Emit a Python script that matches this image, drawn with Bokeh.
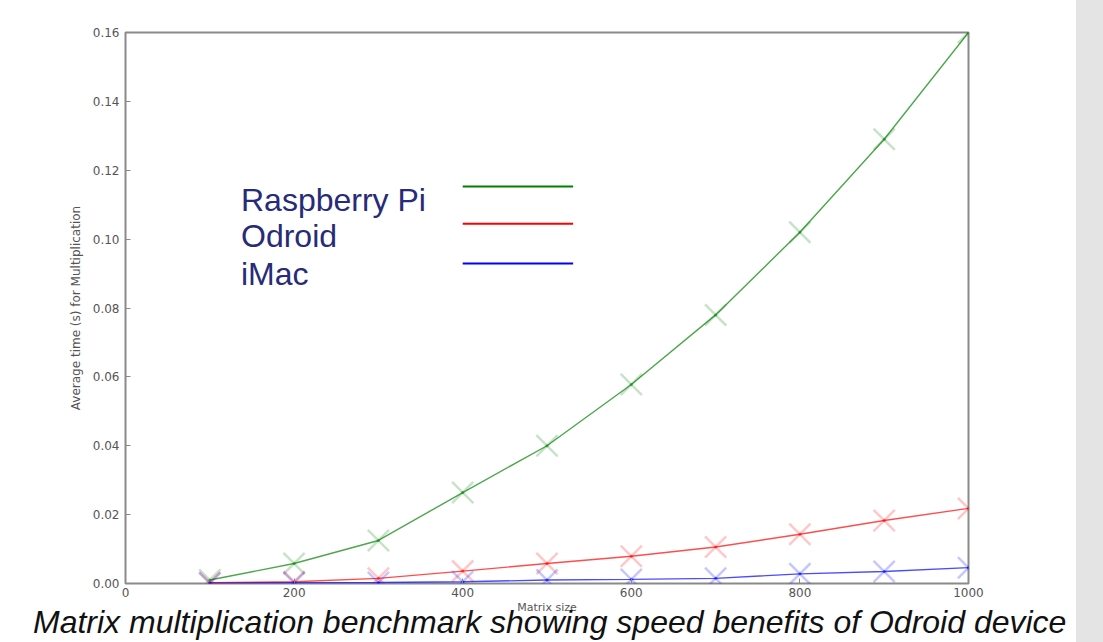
from bokeh.plotting import figure
from bokeh.models import Range1d, Label, Div, FixedTicker, CustomJSTickFormatter
from bokeh.layouts import row, column
from bokeh.embed import file_html
from bokeh.resources import INLINE

# ---- data ----
sizes = [100, 200, 300, 400, 500, 600, 700, 800, 900, 1000]
raspberry_pi = [0.0010, 0.0058, 0.0125, 0.0264, 0.0400, 0.0578, 0.0780, 0.1020, 0.1290, 0.1600]
odroid = [0.0002, 0.0005, 0.0015, 0.0036, 0.0058, 0.0079, 0.0106, 0.0143, 0.0183, 0.0218]
imac = [0.0001, 0.0002, 0.0003, 0.0005, 0.0010, 0.0012, 0.0015, 0.0028, 0.0035, 0.0046]
series_names = ["Raspberry Pi", "Odroid", "iMac"]
series_colors = ["#008000", "#ff0000", "#0000ff"]
x_ticks = [0, 200, 400, 600, 800, 1000]
y_ticks = [0.00, 0.02, 0.04, 0.06, 0.08, 0.10, 0.12, 0.14, 0.16]
x_label = "Matrix size"
y_label = "Average time (s) for Multiplication"
caption = "Matrix multiplication benchmark showing speed benefits of Odroid device"

p = figure(width=1076, height=642, output_backend="svg", toolbar_location=None,
           x_range=Range1d(0, 1000), y_range=Range1d(0, 0.16),
           min_border_left=125, min_border_right=108, min_border_top=32, min_border_bottom=59)
p.background_fill_color = "white"
p.border_fill_color = "white"
p.grid.visible = False
p.outline_line_color = "#8a8a8a"
p.outline_line_width = 2

for ax in (p.xaxis[0], p.yaxis[0]):
    ax.axis_line_color = None
    ax.major_tick_in = 5
    ax.major_tick_out = 0
    ax.minor_tick_line_color = None
    ax.major_tick_line_color = "#8a8a8a"
    ax.major_label_text_font = "DejaVu Sans"
    ax.major_label_text_font_size = "12px"
    ax.major_label_text_color = "#555555"
    ax.major_label_standoff = 6
    ax.axis_label_text_font = "DejaVu Sans"
    ax.axis_label_text_font_size = "12px"
    ax.axis_label_text_font_style = "normal"
    ax.axis_label_text_color = "#555555"
    ax.axis_label_standoff = 7

p.xaxis[0].major_label_standoff = 4
p.xaxis[0].axis_label_standoff = 1
p.xaxis[0].axis_label_text_font_size = "11px"

p.xaxis[0].ticker = FixedTicker(ticks=x_ticks)
p.yaxis[0].ticker = FixedTicker(ticks=y_ticks)
p.yaxis[0].formatter = CustomJSTickFormatter(code="return tick.toFixed(2);")
p.xaxis[0].axis_label = x_label
p.yaxis[0].axis_label = y_label

series = [raspberry_pi, odroid, imac]
for vals, col in zip(series, series_colors):
    p.scatter(sizes, vals, marker="x", size=30, line_color=col, line_alpha=0.22, line_width=2.5)
    p.line(sizes, vals, line_color=col, line_alpha=0.7, line_width=1.4)
    p.scatter(sizes, vals, marker="circle", size=3, fill_color=col, line_color=None, fill_alpha=0.6)

# ---- legend (text on the left, swatch on the right) ----
leg_x_text = 137
leg_text_y = [0.1115, 0.1008, 0.0900]
leg_line_y = [0.1153, 0.1045, 0.0929]
leg_x0, leg_x1 = 400, 531
for name, col, ty, ly in zip(series_names, series_colors, leg_text_y, leg_line_y):
    p.add_layout(Label(x=leg_x_text, y=ty, text=name, text_font="Liberation Sans",
                       text_font_size="32px", text_color="#272b78", text_baseline="alphabetic"))
    p.segment(x0=[leg_x0], y0=[ly], x1=[leg_x1], y1=[ly], line_color=col, line_width=2)

side = Div(width=27, height=642, margin=(0, 0, 0, 0),
           styles={"background-color": "#e4e4e4", "height": "642px", "width": "27px"})

# ---- caption laid over the bottom of the chart ----
cap = Div(text=caption, width=1060, height=40, margin=(-40, 0, 0, 33),
          styles={"font-family": "Liberation Sans", "font-size": "32px", "font-style": "italic",
                  "color": "#111111", "line-height": "40px", "white-space": "nowrap",
                  "position": "relative", "z-index": "10"})

layout = column(row(p, side, spacing=0), cap, spacing=0)
open("out.html", "w").write(file_html(layout, INLINE))
